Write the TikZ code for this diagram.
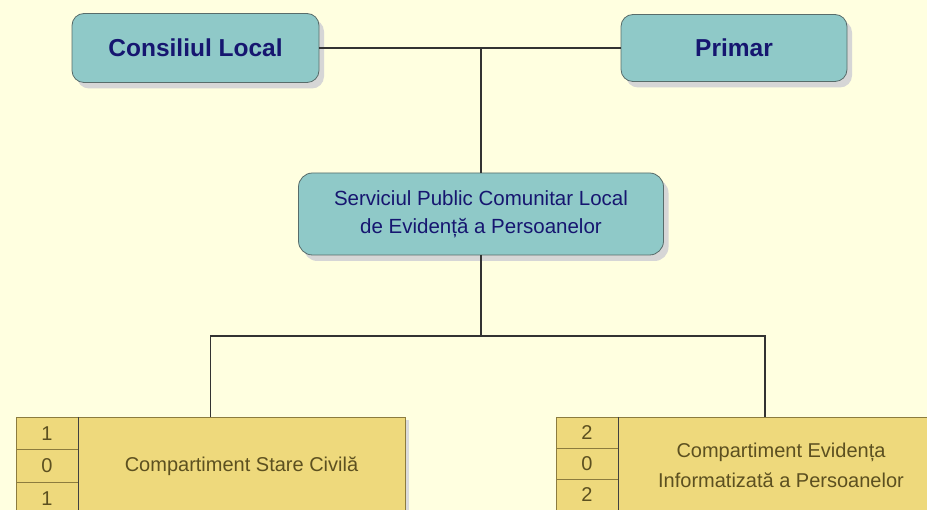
\documentclass[tikz,border=0pt]{standalone}
\usepackage{fontspec}
\setmainfont{Liberation Sans}
\usepackage{tikz}
\usetikzlibrary{positioning, shadows}
\definecolor{paper}{RGB}{255,255,224}
\definecolor{tealfill}{RGB}{143,201,200}
\definecolor{tealline}{RGB}{88,108,106}
\definecolor{navy}{RGB}{22,22,112}
\definecolor{ochre}{RGB}{238,217,124}
\definecolor{ochretext}{RGB}{92,80,32}
\definecolor{ochreline}{RGB}{140,124,62}
\begin{document}
\begin{tikzpicture}[
    x = 1pt, y = -1pt, % one unit per pixel, counted from the top
    outer sep = 0pt,
    inner sep = 0pt,
    wire/.style = {draw = black!80, line width = 1.2pt} % connector lines
]

\tikzstyle{office}=[
    rectangle,
    rounded corners = 12pt,
    draw = tealline,
    line width = .8pt,
    fill = tealfill,
    text = navy,
    drop shadow = {shadow xshift = 5pt, shadow yshift = -6pt, fill = black!16, opacity = 1}
]
\tikzstyle{section}=[
    rectangle,
    draw = ochreline,
    line width = .8pt,
    fill = ochre,
    text = ochretext,
    align = center,
    font = \fontsize{20}{30}\selectfont,
    drop shadow = {shadow xshift = 4pt, shadow yshift = -3pt, fill = black!14, opacity = 1}
]
\tikzstyle{cell}=[
    rectangle,
    draw = ochreline,
    line width = .8pt,
    fill = ochre,
    text = ochretext,
    minimum width = 62pt,
    minimum height = 32.5pt,
    font = \fontsize{20}{24}\selectfont
]

\clip (0,0) rectangle (927,510);
\fill[paper] (0,0) rectangle (927,510);

\node[office, minimum width = 247pt, minimum height = 69pt, font = \fontsize{24.5}{29}\selectfont\bfseries] (Consiliul Local) at (195.5, 48) {Consiliul Local};
\node[office, minimum width = 226pt, minimum height = 67pt, font = \fontsize{24.5}{29}\selectfont\bfseries] (Primar) at (734, 48) {Primar};
\node[office, rounded corners = 14pt, minimum width = 365pt, minimum height = 82pt, align = center, font = \fontsize{20.5}{28}\selectfont] (Serviciul) at (481, 214) {Serviciul Public Comunitar Local\\de Evidență a Persoanelor};

\node[section, minimum width = 327pt, minimum height = 98pt] (Stare Civila) at (241.5, 466) {Compartiment Stare Civilă};
\node[cell, anchor = north east] (Stare Civila 1) at (Stare Civila.north west) {1};
\node[cell, below = 0pt of Stare Civila 1] (Stare Civila 2) {0};
\node[cell, below = 0pt of Stare Civila 2] (Stare Civila 3) {1};
\draw[black!75, line width = 1pt] (Stare Civila.north west) -- (Stare Civila.south west);

\node[section, minimum width = 326pt, minimum height = 96pt] (Evidenta) at (781, 465) {Compartiment Evidența\\Informatizată a Persoanelor};
\node[cell, minimum height = 31pt, anchor = north east] (Evidenta 1) at (Evidenta.north west) {2};
\node[cell, minimum height = 31pt, below = 0pt of Evidenta 1] (Evidenta 2) {0};
\node[cell, minimum height = 31pt, below = 0pt of Evidenta 2] (Evidenta 3) {2};
\draw[black!75, line width = 1pt] (Evidenta.north west) -- (Evidenta.south west);

\coordinate (fork) at (481, 336);
\path[wire] (Consiliul Local) -- (Primar);
\path[wire] (Serviciul) -- (Serviciul |- Primar);
\path[wire] (Serviciul) -- (fork);
\path[wire] (fork) -| ([xshift = -31pt]Stare Civila.north);
\path[wire] (fork) -| ([xshift = -16pt]Evidenta.north);

\end{tikzpicture}
\end{document}
